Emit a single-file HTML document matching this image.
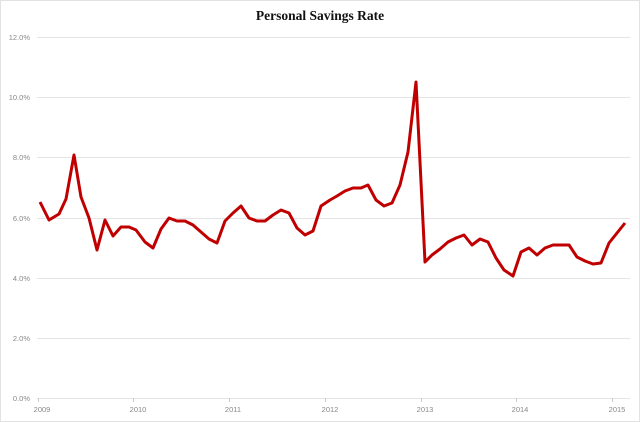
<!DOCTYPE html>
<html><head><meta charset="utf-8"><style>
html,body{margin:0;padding:0;background:#fff}
svg{display:block}
</style></head><body>
<svg width="640" height="422" viewBox="0 0 640 422" xmlns="http://www.w3.org/2000/svg">
<rect x="0.5" y="0.5" width="639" height="421" fill="#fff" stroke="#e2e2e2"/>
<text x="320" y="20" text-anchor="middle" font-family="Liberation Serif, serif" font-weight="bold" font-size="13.5" fill="#111">Personal Savings Rate</text>
<g stroke="#e4e4e4" stroke-width="1">
<line x1="37" y1="37.5" x2="630" y2="37.5"/>
<line x1="37" y1="97.5" x2="630" y2="97.5"/>
<line x1="37" y1="157.5" x2="630" y2="157.5"/>
<line x1="37" y1="218.5" x2="630" y2="218.5"/>
<line x1="37" y1="278.5" x2="630" y2="278.5"/>
<line x1="37" y1="338.5" x2="630" y2="338.5"/>
<line x1="37" y1="398.5" x2="630" y2="398.5"/>
</g>
<g stroke="#ccc" stroke-width="1">
<line x1="38.5" y1="398" x2="38.5" y2="402"/><line x1="133.5" y1="398" x2="133.5" y2="402"/><line x1="229.5" y1="398" x2="229.5" y2="402"/><line x1="325.5" y1="398" x2="325.5" y2="402"/><line x1="421.5" y1="398" x2="421.5" y2="402"/><line x1="516.5" y1="398" x2="516.5" y2="402"/><line x1="612.5" y1="398" x2="612.5" y2="402"/>
</g>
<g font-family="Liberation Sans, sans-serif" font-size="7.5" fill="#888" text-anchor="end">
<text x="30" y="40">12.0%</text><text x="30" y="100">10.0%</text><text x="30" y="160">8.0%</text><text x="30" y="221">6.0%</text><text x="30" y="281">4.0%</text><text x="30" y="341">2.0%</text><text x="30" y="401">0.0%</text>
</g>
<g font-family="Liberation Sans, sans-serif" font-size="7.5" fill="#888" text-anchor="middle">
<text x="42" y="412">2009</text><text x="138" y="412">2010</text><text x="233" y="412">2011</text><text x="330" y="412">2012</text><text x="425" y="412">2013</text><text x="520" y="412">2014</text><text x="617" y="412">2015</text>
</g>
<polyline fill="none" stroke="#c00000" stroke-width="3" stroke-linejoin="round" points="40,202 49,220 59,214 66,199 74,155 81,197 89,218 97,250 105,220 113,236 121,227 129,227 136,230 145,242 153,248 161,229 169,218 177,221 185,221 193,225 201,232 209,239 217,243 225,221 233,213 241,206 249,218 257,221 265,221 273,215 281,210 289,213 297,228 305,235 313,231 321,206 330,200 337,196 345,191 353,188 361,188 368,185 376,200 384,206 392,203 400,185 408,152 416,82 425,262 432,255 440,249 448,242 456,238 464,235 472,245 480,239 488,242 496,258 504,270 513,276 521,252 529,248 537,255 545,248 553,245 561,245 569,245 577,257 585,261 593,264 601,263 609,243 617,233 625,223"/>
</svg>
</body></html>
